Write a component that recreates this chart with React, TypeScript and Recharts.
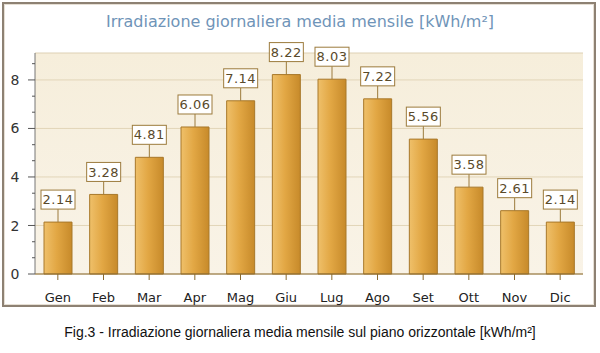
import { BarChart, Bar, XAxis, YAxis, CartesianGrid, LabelList, ReferenceLine } from 'recharts'

const MONTHS = ['Gen', 'Feb', 'Mar', 'Apr', 'Mag', 'Giu', 'Lug', 'Ago', 'Set', 'Ott', 'Nov', 'Dic']
const IRRADIATION = [2.14, 3.28, 4.81, 6.06, 7.14, 8.22, 8.03, 7.22, 5.56, 3.58, 2.61, 2.14]
const Y_TICKS = [0, 0.67, 1.33, 2, 2.67, 3.33, 4, 4.67, 5.33, 6, 6.67, 7.33, 8, 8.67]
const Y_LABELS = [0, 2, 4, 6, 8]
const Y_MAX = 9.11

const TITLE = 'Irradiazione giornaliera media mensile [kWh/m²]'
const CAPTION = 'Fig.3 - Irradiazione giornaliera media mensile sul piano orizzontale [kWh/m²]'

const data = MONTHS.map((m, i) => ({ month: m, value: IRRADIATION[i] }))

const FONT = '"DejaVu Sans", Verdana, sans-serif'

function YTick(props: any) {
  const { x, y, payload } = props
  const major = Y_LABELS.includes(payload.value)
  return (
    <g>
      <line x1={major ? x - 7 : x - 3} x2={x} y1={y} y2={y} stroke="#555" strokeWidth={1} />
      {major && (
        <text x={x - 20} y={y} dy="0.36em" textAnchor="middle" fontSize={14} fontFamily={FONT} fill="#333">
          {payload.value}
        </text>
      )}
    </g>
  )
}

// white value box on a short stem above each bar
function ValueBox(props: any) {
  const { x, y, width, value } = props
  const cx = x + width / 2
  const boxH = 19
  const boxW = 34
  const top = y - 13 - boxH
  return (
    <g>
      <line x1={cx} x2={cx} y1={y} y2={y - 13} stroke="#9c7b3c" strokeWidth={1} />
      <rect x={cx - boxW / 2} y={top} width={boxW} height={boxH} fill="#fff" stroke="#9c7b3c" strokeWidth={1} />
      <text x={cx} y={top + boxH / 2} dy="0.36em" textAnchor="middle" fontSize={13} fontFamily={FONT} fill="#5a4a2a" letterSpacing={0.5}>
        {value.toFixed(2)}
      </text>
    </g>
  )
}

export default function App() {
  return (
    <div style={{ position: 'absolute', left: 0, top: 0, width: 600, height: 353, background: '#fff' }}>
      {/* frame */}
      <div
        style={{
          position: 'absolute', left: 2, top: 2, width: 590, height: 301,
          border: '2px solid #8d8173', boxShadow: 'inset 0 0 0 1px #e6dfd4',
        }}
      />
      <div
        style={{
          position: 'absolute', left: 0, top: 12, width: 600, textAlign: 'center',
          fontFamily: FONT, fontSize: 16, color: '#6f94b8',
        }}
      >
        {TITLE}
      </div>
      <div style={{ position: 'absolute', left: 0, top: 0 }}>
        <BarChart width={600} height={310} data={data} margin={{ top: 53, right: 17, left: 0, bottom: 0 }} barSize={28}>
          <defs>
            <linearGradient id="plotBg" x1="0" y1="0" x2="0" y2="1">
              <stop offset="0%" stopColor="#f6eedb" />
              <stop offset="100%" stopColor="#f9f3e7" />
            </linearGradient>
            <linearGradient id="barFill" x1="0" y1="0" x2="1" y2="0">
              <stop offset="0%" stopColor="#efc06a" />
              <stop offset="45%" stopColor="#e2a744" />
              <stop offset="100%" stopColor="#c78a2a" />
            </linearGradient>
          </defs>
          <CartesianGrid
            vertical={false}
            horizontalValues={Y_LABELS}
            stroke="#e2d5b8"
            fill="url(#plotBg)"
          />
          <ReferenceLine y={Y_MAX} stroke="#ddd0b4" />
          <XAxis
            dataKey="month"
            axisLine={{ stroke: '#8a6a30' }}
            tickLine={{ stroke: '#8a6a30' }}
            tickSize={6}
            tickMargin={13}
            height={36}
            tick={{ fontSize: 13, fontFamily: FONT, fill: '#222' }}
            interval={0}
          />
          <YAxis
            width={35}
            domain={[0, Y_MAX]}
            ticks={Y_TICKS}
            interval={0}
            tickSize={0}
            tickMargin={0}
            tickLine={false}
            axisLine={{ stroke: '#777' }}
            tick={<YTick />}
          />
          <Bar dataKey="value" fill="url(#barFill)" stroke="#a8782a" strokeWidth={1} isAnimationActive={false}>
            <LabelList dataKey="value" content={<ValueBox />} />
          </Bar>
        </BarChart>
      </div>
      <div
        style={{
          position: 'absolute', left: 0, top: 324, width: 600, textAlign: 'center',
          fontFamily: '"Liberation Sans", Arial, sans-serif', fontSize: 14, color: '#111',
        }}
      >
        {CAPTION}
      </div>
    </div>
  )
}
